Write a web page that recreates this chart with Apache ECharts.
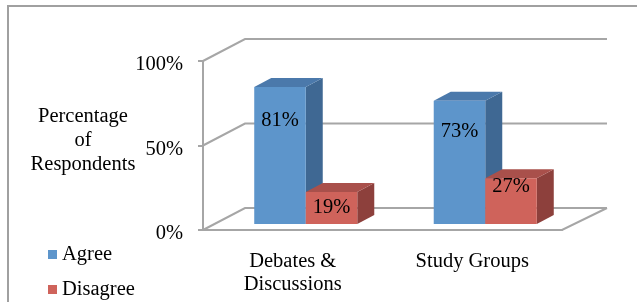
<!DOCTYPE html>
<html>
<head>
<meta charset="utf-8">
<script src="https://cdn.jsdelivr.net/npm/echarts@6/dist/echarts.min.js"></script>
<style>
html,body{margin:0;padding:0;background:#fff;}
#c{width:637px;height:302px;}
</style>
</head>
<body>
<div id="c"></div>
<script>
// ---- data ----
const categories = ['Debates &\nDiscussions', 'Study Groups'];
const seriesNames = ['Agree', 'Disagree'];
const agree = [81, 73];
const disagree = [19, 27];
const yTicks = [0, 50, 100];

// ---- style ----
const FONT = 'Liberation Serif';
const FS = 20.5;
const GRID_COLOR = '#A6A6A6';
const WALL = { dx: 42, dy: -22 };      // depth of the chart box
const BAR_POS = { dx: 12, dy: -6 };    // depth of bar front faces
const BAR_DEPTH = { dx: 17, dy: -9 };  // depth of bars
const BAR_FRAC = 0.287;                // bar width as fraction of category band
const colors = {
  Agree: { front: '#5D95CB', top: '#4B79AB', side: '#3F6893' },
  Disagree: { front: '#CF635B', top: '#A9504B', side: '#8D403C' }
};
// label drop (px below bar top) per point
const labelDrop = { Agree: [33, 31], Disagree: [16, 8] };
const legendTops = [238, 273];

const chart = echarts.init(document.getElementById('c'), null, { renderer: 'canvas' });

function frameRender(params, api) {
  const cs = params.coordSys;
  const v = api.value(1);
  const y = api.coord([0, v])[1];
  const xl = cs.x, xr = cs.x + cs.width;
  const children = [{
    type: 'polyline',
    shape: { points: [[xl, y], [xl + WALL.dx, y + WALL.dy], [xr + WALL.dx + 3, y + WALL.dy]] },
    style: { stroke: GRID_COLOR, lineWidth: 2, fill: null }
  }];
  if (v === 0) {
    children.push({
      type: 'polyline',
      shape: { points: [[xl, y], [xr, y], [xr + WALL.dx + 3, y + WALL.dy]] },
      style: { stroke: GRID_COLOR, lineWidth: 2, fill: null }
    });
  }
  return { type: 'group', children: children };
}

function makeBarRender(sIdx) {
  const name = seriesNames[sIdx];
  const c = colors[name];
  return function (params, api) {
    const cat = api.value(0), v = api.value(1);
    const base = api.coord([cat, 0]);
    const top = api.coord([cat, v]);
    const band = api.size([1, 0])[0];
    const w = band * BAR_FRAC;
    const x0 = base[0] - w + 1 + sIdx * w + BAR_POS.dx;
    const yb = base[1] + BAR_POS.dy;
    const yt = top[1] + BAR_POS.dy;
    const bx = BAR_DEPTH.dx, by = BAR_DEPTH.dy;
    const drop = labelDrop[name][params.dataIndex];
    return {
      type: 'group',
      children: [
        { type: 'polygon', shape: { points: [[x0 + w, yt], [x0 + w + bx, yt + by], [x0 + w + bx, yb + by], [x0 + w, yb]] }, style: { fill: c.side } },
        { type: 'polygon', shape: { points: [[x0, yt], [x0 + w, yt], [x0 + w + bx, yt + by], [x0 + bx, yt + by]] }, style: { fill: c.top } },
        { type: 'rect', shape: { x: x0, y: yt, width: w, height: yb - yt }, style: { fill: c.front } },
        { type: 'text', x: x0 + w / 2, y: yt + drop, style: { text: v + '%', fill: '#000', font: FS + 'px "' + FONT + '"', align: 'center', verticalAlign: 'middle' } }
      ]
    };
  };
}

const option = {
  animation: false,
  backgroundColor: '#fff',
  graphic: [
    { type: 'rect', shape: { x: 8, y: 6, width: 700, height: 400 }, style: { fill: null, stroke: '#A0A0A0', lineWidth: 2 }, z: 0 },
    { type: 'text', x: 83, y: 141, style: { text: 'Percentage\nof\nRespondents', font: FS + 'px "' + FONT + '"', fill: '#000', align: 'center', verticalAlign: 'middle', lineHeight: 24 } }
  ],
  legend: seriesNames.map((n, i) => ({
    orient: 'vertical',
    left: 43,
    top: legendTops[i],
    itemWidth: 9,
    itemHeight: 9,
    icon: 'rect',
    data: [{ name: n, itemStyle: { color: colors[n].front } }],
    textStyle: { fontFamily: FONT, fontSize: FS, color: '#000', lineHeight: 23 }
  })),
  grid: { left: 203, top: 61, width: 359, height: 169, containLabel: false },
  xAxis: {
    type: 'category',
    data: categories,
    axisLine: { lineStyle: { color: GRID_COLOR, width: 2 } },
    axisTick: { length: 6, lineStyle: { color: GRID_COLOR, width: 2 } },
    axisLabel: { fontFamily: FONT, fontSize: FS, color: '#000', margin: 20, lineHeight: 23 },
    splitLine: { show: false }
  },
  yAxis: {
    type: 'value',
    min: 0, max: 100, interval: 50,
    axisLine: { show: true, lineStyle: { color: GRID_COLOR, width: 2 } },
    axisTick: { show: true, length: 5, lineStyle: { color: GRID_COLOR, width: 2 } },
    axisLabel: {
      formatter: '{v|{value}%}', margin: 20,
      rich: { v: { fontFamily: FONT, fontSize: FS, color: '#000', padding: [8, 0, 0, 0] } }
    },
    splitLine: { show: false }
  },
  series: [
    { type: 'custom', name: 'frame', renderItem: frameRender, data: yTicks.map(v => [0, v]), z: 1, silent: true },
    { type: 'custom', name: 'Agree', renderItem: makeBarRender(0), data: agree.map((v, i) => [i, v]), z: 3, itemStyle: { color: colors.Agree.front } },
    { type: 'custom', name: 'Disagree', renderItem: makeBarRender(1), data: disagree.map((v, i) => [i, v]), z: 4, itemStyle: { color: colors.Disagree.front } }
  ]
};
chart.setOption(option);
</script>
</body>
</html>
